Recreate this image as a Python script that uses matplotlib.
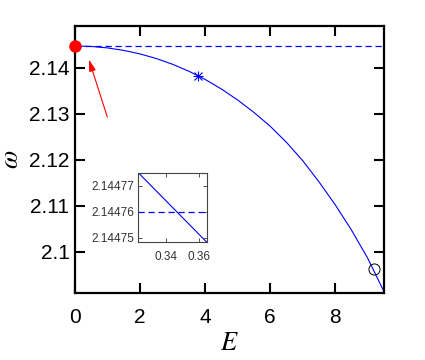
import matplotlib
matplotlib.use("Agg")
import matplotlib.pyplot as plt

# Curve values
E = [0, 0.5, 1, 1.5, 2, 2.5, 3, 3.5, 4, 4.5, 5, 5.5, 6, 6.5, 7, 7.5, 8, 8.5, 9, 9.5]
omega = [2.14476, 2.14465, 2.14433, 2.14379, 2.14302, 2.14202, 2.14077, 2.13926,
         2.13748, 2.13539, 2.13300, 2.13030, 2.12730, 2.12380, 2.11980, 2.11520,
         2.11020, 2.10470, 2.09856, 2.09130]
omega_ref = 2.14476

# special points
start_pt = (0, 2.14476)
star_pt = (3.79, 2.1383)
circle_pt = (9.18, 2.0962)
arrow_tail = (1.02, 2.1287)
arrow_tip = (0.40, 2.1424)

# inset (zoom around E ~ 0.34)
inset_E = [0.323, 0.365]
inset_omega = [2.144775, 2.144748]
inset_xticks = [0.34, 0.36]
inset_yticks = [2.14475, 2.14476, 2.14477]

xticks = [0, 2, 4, 6, 8]
yticks = [2.1, 2.11, 2.12, 2.13, 2.14]

plt.rcParams['font.family'] = ['Liberation Sans', 'DejaVu Sans']
plt.rcParams['mathtext.fontset'] = 'stix'

fig = plt.figure(figsize=(4.25, 3.6), dpi=100)
ax = fig.add_axes([0.1765, 0.1861, 0.727, 0.7417])

ax.plot(E, omega, color='blue', lw=0.8)
ax.plot([E[0], E[-1]], [omega_ref, omega_ref], color='blue', lw=0.9, ls=(0, (5, 3)))
ax.plot(*start_pt, 'o', color='red', ms=8, clip_on=False, zorder=5)
# MATLAB style asterisk = plus + cross
ax.plot(*star_pt, marker='+', color='blue', ms=7, mew=0.8, zorder=5)
ax.plot(*star_pt, marker='x', color='blue', ms=6, mew=0.8, zorder=5)
ax.plot(*circle_pt, 'o', mfc='none', mec='black', ms=8, mew=0.7, zorder=5)
ax.annotate('', xy=arrow_tip, xytext=arrow_tail,
            arrowprops=dict(arrowstyle='-|>,head_length=0.7,head_width=0.2',
                            color='red', lw=0.8))

ax.set_xlim(0, 9.5)
ax.set_ylim(2.091, 2.1491)
ax.set_xticks(xticks)
ax.set_xticklabels([str(t) for t in xticks])
ax.set_yticks(yticks)
ax.set_yticklabels(['2.1', '2.11', '2.12', '2.13', '2.14'])
ax.tick_params(direction='in', length=7, width=1.5, labelsize=15,
               top=True, right=True)
ax.tick_params(axis='x', pad=11)
ax.tick_params(axis='y', pad=4)
for s in ax.spines.values():
    s.set_linewidth(1.6)
ax.set_xlabel(r'$E$', fontsize=19, labelpad=3)
ax.set_ylabel(r'$\omega$', fontsize=19, labelpad=4)

# inset
ins = fig.add_axes([0.3255, 0.327, 0.1624, 0.1917])
ins.plot(inset_E, inset_omega, color='blue', lw=0.8)
ins.plot([0.323, 0.365], [omega_ref, omega_ref], color='blue', lw=0.9, ls=(0, (5, 3)))
ins.set_xlim(0.323, 0.365)
ins.set_ylim(2.1447482, 2.1447748)
ins.set_xticks(inset_xticks)
ins.set_xticklabels(['0.34', '0.36'])
ins.set_yticks(inset_yticks)
ins.set_yticklabels(['%.5f' % t for t in inset_yticks])
ins.tick_params(direction='in', length=3, width=0.6, labelsize=8.5,
                top=True, right=True, colors='#333333', pad=3)
ins.tick_params(axis='x', pad=6)
for s in ins.spines.values():
    s.set_linewidth(0.8)
    s.set_color('#444444')

fig.savefig('out.png', dpi=100)
